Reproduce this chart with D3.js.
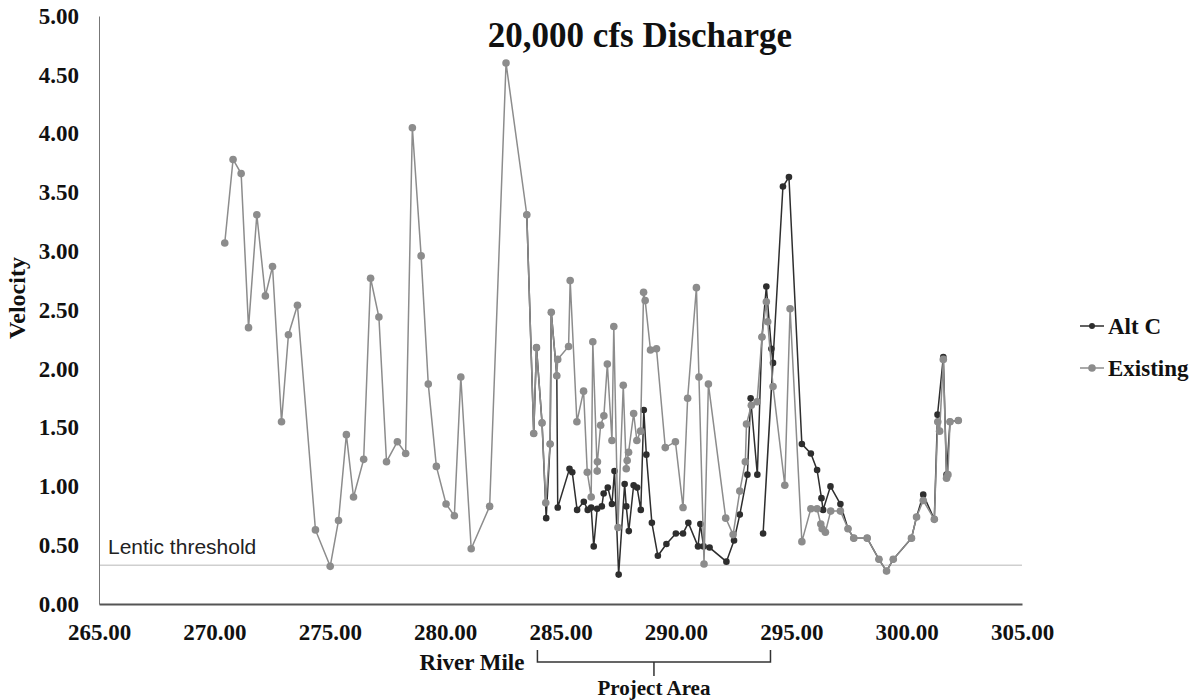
<!DOCTYPE html>
<html>
<head>
<meta charset="utf-8">
<script src="https://cdn.jsdelivr.net/npm/d3@7"></script>
<style>
  html, body { margin: 0; padding: 0; background: #fff; }
  svg { display: block; }
  .serif { font-family: "Liberation Serif", "Times New Roman", serif; font-weight: bold; fill: #111; }
</style>
</head>
<body>
<svg id="chart" width="1201" height="700"></svg>
<script>
// ---------- data ----------
const title = "20,000 cfs Discharge";
const xTicks = [265, 270, 275, 280, 285, 290, 295, 300, 305];
const yTicks = [0, 0.5, 1, 1.5, 2, 2.5, 3, 3.5, 4, 4.5, 5];
const lenticThreshold = 0.33;

const existingMile = [270.45,270.81,271.16,271.48,271.84,272.21,272.52,272.91,273.21,273.60,
  274.38,275.02,275.38,275.72,276.03,276.47,276.77,277.13,277.46,277.93,278.29,278.58,278.96,
  279.27,279.62,280.04,280.40,280.68,281.13,281.93,282.64,283.54,283.84,283.96,284.20,284.36,
  284.55,284.60,284.84,284.88,285.35,285.42,285.71,286.00,286.16,286.33,286.40,286.59,286.60,
  286.74,286.88,287.03,287.23,287.31,287.49,287.72,287.85,287.89,287.95,288.17,288.31,288.47,
  288.60,288.67,288.90,289.16,289.54,289.98,290.31,290.51,290.89,291.00,291.22,291.41,292.16,
  292.48,292.77,293.01,293.06,293.27,293.52,293.73,293.92,293.98,294.21,294.72,294.95,295.46,
  295.85,296.12,296.28,296.34,296.48,296.71,297.13,297.46,297.71,298.29,298.80,299.13,299.42,
  300.21,300.43,300.72,301.20,301.35,301.43,301.59,301.73,301.79,301.88,302.24];
const existingVel = [3.07,3.78,3.66,2.35,3.31,2.62,2.87,1.55,2.29,2.54,
  0.63,0.32,0.71,1.44,0.91,1.23,2.77,2.44,1.21,1.38,1.28,4.05,2.96,
  1.87,1.17,0.85,0.75,1.93,0.47,0.83,4.60,3.31,1.45,2.18,1.54,0.86,
  1.36,2.48,1.94,2.08,2.19,2.75,1.55,1.81,1.12,0.91,2.23,1.13,1.21,
  1.52,1.60,2.04,1.39,2.36,0.65,1.86,1.15,1.22,1.29,1.62,1.39,1.47,
  2.65,2.58,2.16,2.17,1.33,1.38,0.82,1.75,2.69,1.93,0.34,1.87,0.73,
  0.59,0.96,1.21,1.53,1.69,1.72,2.27,2.57,2.40,1.85,1.01,2.51,0.53,
  0.81,0.81,0.68,0.64,0.61,0.79,0.79,0.64,0.56,0.56,0.38,0.28,0.38,
  0.56,0.74,0.88,0.72,1.55,1.47,2.08,1.07,1.10,1.55,1.56];

const altCMile = [283.54,283.84,283.96,284.20,284.38,284.55,284.60,284.84,284.88,285.39,
  285.51,285.72,286.01,286.18,286.33,286.44,286.59,286.79,286.87,287.05,287.23,287.34,287.52,
  287.78,287.85,287.96,288.17,288.32,288.48,288.61,288.72,288.96,289.22,289.59,290.00,290.31,
  290.54,290.96,291.06,291.20,291.46,292.19,292.52,292.77,293.10,293.24,293.53,293.73,293.92,
  294.14,294.21,293.78,294.64,294.90,295.46,295.85,296.12,296.31,296.38,296.70,297.13,297.46,
  297.71,298.29,298.80,299.13,299.42,300.21,300.43,300.72,301.20,301.34,301.59,301.73,301.88,302.24];
const altCVel = [3.31,1.45,2.18,1.54,0.73,1.36,2.48,1.94,0.82,1.15,
  1.12,0.80,0.87,0.80,0.82,0.49,0.81,0.83,0.94,0.99,0.85,1.13,0.25,
  1.02,0.83,0.62,1.01,0.99,0.80,1.65,1.27,0.69,0.41,0.51,0.60,0.60,
  0.69,0.49,0.68,0.49,0.48,0.36,0.54,0.76,1.10,1.75,1.10,2.27,2.70,
  2.17,2.05,0.60,3.55,3.63,1.36,1.28,1.14,0.90,0.80,1.00,0.85,0.64,
  0.56,0.56,0.38,0.28,0.38,0.56,0.74,0.93,0.72,1.61,2.10,1.10,1.55,1.56];

const seriesNames = ["Alt C", "Existing"];
const seriesColors = ["#2e2e2e", "#8c8c8c"];

// ---------- chart ----------
const svg = d3.select("#chart");
const serif = '"Liberation Serif", "Times New Roman", serif';

const x = d3.scaleLinear().domain([265, 305]).range([99, 1022]);
const y = d3.scaleLinear().domain([0, 5]).range([604, 16]);

// lentic threshold
svg.append("line")
  .attr("x1", x(265)).attr("x2", x(305))
  .attr("y1", y(lenticThreshold)).attr("y2", y(lenticThreshold))
  .attr("stroke", "#cfcfcf").attr("stroke-width", 1.5);
svg.append("text")
  .attr("x", 108).attr("y", y(lenticThreshold) - 11)
  .attr("font-family", '"Liberation Sans", Arial, sans-serif')
  .attr("font-size", 21).attr("fill", "#222")
  .text("Lentic threshold");

// axes
const yAxis = svg.append("g").attr("transform", `translate(${x(265)},0)`)
  .call(d3.axisLeft(y).tickValues(yTicks).tickFormat(d3.format(".2f")).tickSize(0).tickPadding(20));
yAxis.select(".domain").attr("stroke", "#777").attr("stroke-width", 1);
yAxis.selectAll("text").attr("font-family", serif).attr("font-weight", "bold").attr("font-size", 23).attr("fill", "#111");

const xAxis = svg.append("g").attr("transform", `translate(0,${y(0)})`)
  .call(d3.axisBottom(x).tickValues(xTicks).tickFormat(d3.format(".2f")).tickSize(0).tickPadding(20));
xAxis.select(".domain").attr("stroke", "#555").attr("stroke-width", 2);
xAxis.selectAll("text").attr("font-family", serif).attr("font-weight", "bold").attr("font-size", 23).attr("fill", "#111");

// series
const altC = altCMile.map((m, i) => [m, altCVel[i]]);
const existing = existingMile.map((m, i) => [m, existingVel[i]]);
const line = d3.line().x(d => x(d[0])).y(d => y(d[1]));

svg.append("path").datum(altC).attr("d", line)
  .attr("fill", "none").attr("stroke", seriesColors[0]).attr("stroke-width", 1.5);
svg.append("g").selectAll("circle").data(altC).join("circle")
  .attr("cx", d => x(d[0])).attr("cy", d => y(d[1])).attr("r", 3.3).attr("fill", seriesColors[0]);

svg.append("path").datum(existing).attr("d", line)
  .attr("fill", "none").attr("stroke", seriesColors[1]).attr("stroke-width", 1.5);
svg.append("g").selectAll("circle").data(existing).join("circle")
  .attr("cx", d => x(d[0])).attr("cy", d => y(d[1])).attr("r", 3.8).attr("fill", seriesColors[1]);

// title
svg.append("text").attr("class", "serif").attr("x", 640).attr("y", 47)
  .attr("text-anchor", "middle").attr("font-size", 35).text(title);

// y label
svg.append("text").attr("class", "serif")
  .attr("transform", "translate(25,298) rotate(-90)")
  .attr("text-anchor", "middle").attr("font-size", 24).text("Velocity");

// x label
svg.append("text").attr("class", "serif").attr("x", 472).attr("y", 670)
  .attr("text-anchor", "middle").attr("font-size", 23).text("River Mile");

// project area bracket
const bx1 = x(284.0), bx2 = x(294.1), bm = (bx1 + bx2) / 2;
svg.append("path")
  .attr("d", `M${bx1},650 L${bx1},662 L${bx2},662 L${bx2},650 M${bm},662 L${bm},676`)
  .attr("fill", "none").attr("stroke", "#333").attr("stroke-width", 1.5);
svg.append("text").attr("class", "serif").attr("x", bm).attr("y", 695)
  .attr("text-anchor", "middle").attr("font-size", 21).text("Project Area");

// legend
const legend = svg.append("g");
seriesNames.forEach((name, i) => {
  const ly = 326 + i * 42;
  legend.append("line").attr("x1", 1080).attr("x2", 1104).attr("y1", ly).attr("y2", ly)
    .attr("stroke", seriesColors[i]).attr("stroke-width", 1.5);
  legend.append("circle").attr("cx", 1092).attr("cy", ly).attr("r", i === 0 ? 3 : 3.8).attr("fill", seriesColors[i]);
  legend.append("text").attr("class", "serif").attr("x", 1108).attr("y", ly + 8)
    .attr("font-size", 23).text(name);
});
</script>
</body>
</html>
